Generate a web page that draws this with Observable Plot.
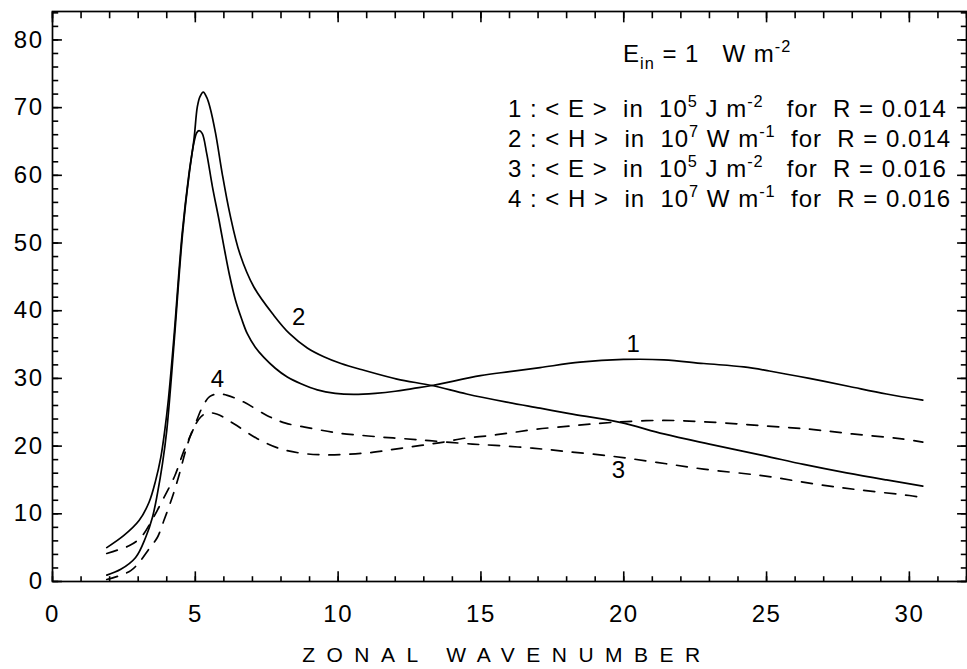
<!DOCTYPE html>
<html><head><meta charset="utf-8">
<script src="https://cdn.jsdelivr.net/npm/d3@7"></script>
<script src="https://cdn.jsdelivr.net/npm/@observablehq/plot@0.6"></script>
<style>
body{margin:0;background:#fff;}
#chart svg{display:block;}
</style></head><body><div id="chart"></div>
<script>
// Curve 1: <E> for R = 0.014 (solid)
const wnE014 = [1.9,2.39,2.91,3.26,3.5,3.67,3.85,4.0,4.14,4.27,4.55,4.78,4.95,5.05,5.13,5.24,5.4,5.6,5.83,6.0,6.2,6.41,6.62,6.82,7.1,7.4,7.8,8.22,8.7,9.27,9.9,10.55,11.3,12.0,12.6,13.29,14.98,16.0,17.07,18.47,19.99,21.4,22.8,24.2,25.1,26.5,27.9,29.2,30.47];
const valE014 = [0.95,1.8,3.55,6.5,9.5,12.9,17.4,22.3,29,36,51.2,60,64.8,66.3,66.6,66.2,63.2,58.3,53.4,49.5,45.2,41.5,38.8,36.6,34.6,33.1,31.5,30.2,29.2,28.3,27.8,27.65,27.8,28.1,28.5,28.95,30.4,31.0,31.6,32.4,32.8,32.75,32.2,31.7,31.1,30.0,28.8,27.7,26.8];
// Curve 2: <H> for R = 0.014 (solid)
const wnH014 = [1.9,2.5,3.03,3.38,3.61,3.79,3.93,4.06,4.25,4.54,4.78,4.95,5.07,5.16,5.28,5.4,5.51,5.71,5.94,6.21,6.56,7.05,7.75,8.3,8.92,9.5,10.1,10.9,12.06,13.29,14.5,15.9,17.07,18.1,19.87,21.4,23.0,24.9,26.3,27.8,29.2,30.47];
const valH014 = [5.0,6.8,9.0,11.7,14.9,18.3,22.3,27,36,51.4,60.3,65.2,70.1,71.6,72.3,71.5,70.1,66.2,60.3,54.3,48.4,43.5,39.3,36.6,34.5,33.2,32.2,31.2,29.9,28.95,27.7,26.5,25.6,24.8,23.5,21.8,20.3,18.6,17.3,16.05,15.0,14.1];
// Curve 3: <E> for R = 0.016 (dashed)
const wnE016 = [1.9,2.3,2.74,3.03,3.41,3.67,3.9,4.19,4.43,4.66,4.9,5.19,5.42,5.77,6.35,7.17,7.98,8.8,9.6,10.4,11.25,12.06,12.9,13.7,14.5,15.3,16.1,16.96,18.2,19.6,21.4,23.2,24.9,26.5,28.0,29.66,30.47];
const valE016 = [0.3,0.8,1.6,2.8,5.0,6.5,9.0,12.4,15.7,19.3,22.3,24.3,24.9,24.7,23.3,21.1,19.6,18.9,18.7,18.8,19.1,19.6,20.1,20.6,21.2,21.55,22.0,22.5,23.0,23.5,23.8,23.5,23.0,22.5,21.8,21.1,20.6];
// Curve 4: <H> for R = 0.016 (dashed)
const wnH016 = [1.9,2.27,2.68,3.09,3.5,3.9,4.29,4.6,4.93,5.24,5.5,5.77,6.12,6.7,7.52,8.16,9.1,9.96,10.78,11.6,12.3,13.2,14.7,15.5,16.8,18.0,19.6,21.15,22.8,24.9,26.7,28.3,30.0,30.47];
const valH016 = [4.14,4.64,5.28,6.5,9.2,12.4,15.7,19.3,22.5,25.7,27.3,27.7,27.5,26.5,24.5,23.4,22.6,21.95,21.6,21.3,21.1,20.8,20.3,20.1,19.7,19.2,18.5,17.6,16.6,15.6,14.4,13.5,12.7,12.4];

// Curve number labels
const curveLabels = ["1","2","3","4"];
const curveLabelX = [20.33, 8.62, 19.81, 5.77];
const curveLabelY = [35.1, 39.0, 16.4, 29.9];

// Axis ticks
const xTickLabels = [0,5,10,15,20,25,30];
const xMinorTicks = d3.range(0, 33, 1);
const yTickLabels = [0,10,20,30,40,50,60,70,80];
const yMinorTicks = d3.range(0, 85, 2);

// Legend text
const legendHead = [["E",""],["in","sub"],[" = 1   W m",""],["-2","sup"]];
const legendLines = [
  [["1 : < E >  in  10",""],["5","sup"],[" J m",""],["-2","sup"],["   for  R = 0.014",""]],
  [["2 : < H >  in  10",""],["7","sup"],[" W m",""],["-1","sup"],["  for  R = 0.014",""]],
  [["3 : < E >  in  10",""],["5","sup"],[" J m",""],["-2","sup"],["   for  R = 0.016",""]],
  [["4 : < H >  in  10",""],["7","sup"],[" W m",""],["-1","sup"],["  for  R = 0.016",""]]
];
const xTitle = "ZONAL WAVENUMBER";

const series = [
  {name:"1", xs:wnE014, ys:valE014, dash:false},
  {name:"2", xs:wnH014, ys:valH014, dash:false},
  {name:"3", xs:wnE016, ys:valE016, dash:true},
  {name:"4", xs:wnH016, ys:valH016, dash:true}
];
const solidRows = [], dashRows = [];
for (const s of series) s.xs.forEach((x,i)=> (s.dash?dashRows:solidRows).push({x, y:s.ys[i], s:s.name}));
const labelRows = curveLabels.map((t,i)=>({t, x:curveLabelX[i], y:curveLabelY[i]}));

const W = 967, H = 669;
const X0 = 0, X1 = 32, Y0 = 0, Y1 = 84.2;
const font = "'Liberation Sans', Arial, Helvetica, sans-serif";

// inward tick segments on all four sides (lengths in data units)
const xTickRows = [
  ...xMinorTicks.map(v => ({v, a: Y0, b: Y0 + 0.78})),
  ...xTickLabels.map(v => ({v, a: Y0, b: Y0 + 1.5})),
  ...xMinorTicks.map(v => ({v, a: Y1, b: Y1 - 1.0})),
  ...xTickLabels.map(v => ({v, a: Y1, b: Y1 - 1.6}))
];
const yTickRows = [
  ...yMinorTicks.map(v => ({v, a: X0, b: X0 + 0.2})),
  ...yTickLabels.map(v => ({v, a: X0, b: X0 + 0.33})),
  ...yMinorTicks.map(v => ({v, a: X1, b: X1 - 0.2})),
  ...yTickLabels.map(v => ({v, a: X1, b: X1 - 0.33}))
];

const plot = Plot.plot({
  width: W, height: H,
  marginLeft: 52, marginRight: 1, marginTop: 11, marginBottom: 88,
  style: {fontFamily: font, fontSize: "24px", color: "black", background: "white"},
  x: {domain: [X0, X1]},
  y: {domain: [Y0, Y1]},
  marks: [
    Plot.link(xTickRows, {x1: "v", x2: "v", y1: "a", y2: "b", stroke: "black", strokeWidth: 1.6}),
    Plot.link(yTickRows, {y1: "v", y2: "v", x1: "a", x2: "b", stroke: "black", strokeWidth: 1.6}),
    Plot.axisX({anchor:"bottom", ticks:xTickLabels, tickSize:0, tickPadding:23, label:null, fontSize:24}),
    Plot.axisY({anchor:"left", ticks:yTickLabels, tickSize:0, tickPadding:9, label:null, fontSize:24}),
    Plot.frame({stroke:"black", strokeWidth:1.7}),
    Plot.line(solidRows, {x:"x", y:"y", z:"s", stroke:"black", strokeWidth:1.7, curve:"catmull-rom"}),
    Plot.line(dashRows, {x:"x", y:"y", z:"s", stroke:"black", strokeWidth:1.7, strokeDasharray:"11,10", curve:"catmull-rom"}),
    Plot.text(labelRows, {x:"x", y:"y", text:"t", fontSize:24, fill:"black"})
  ]
});
document.getElementById("chart").appendChild(plot);

const svg = d3.select(plot);
svg.selectAll('g[aria-label$="tick label"] text').style("letter-spacing", "1.5px");

// Legend and axis title as real SVG text
function richText(x, y, parts, size, spacing) {
  const t = svg.append("text").attr("x", x).attr("y", y)
    .attr("text-anchor", "start")
    .attr("font-size", size).attr("font-family", font).attr("fill", "black")
    .style("white-space", "pre").style("letter-spacing", spacing + "px");
  let shift = 0;
  for (const [s, kind] of parts) {
    const target = kind === "sup" ? -0.4*size : kind === "sub" ? 0.28*size : 0;
    t.append("tspan").attr("dy", target - shift)
      .attr("font-size", (kind === "sup" || kind === "sub") ? size*0.68 : size).text(s);
    shift = target;
  }
  return t;
}
richText(623, 62, legendHead, 24, 1);
const legendBaselines = [117, 147, 177, 207];
legendLines.forEach((parts, i) => richText(508, legendBaselines[i], parts, 24, 1));

svg.append("text").attr("x", 507).attr("y", 662).attr("text-anchor", "middle")
  .attr("font-size", 21).attr("font-family", font).attr("fill", "black")
  .style("letter-spacing", "11.5px").text(xTitle);
</script>
</body></html>
